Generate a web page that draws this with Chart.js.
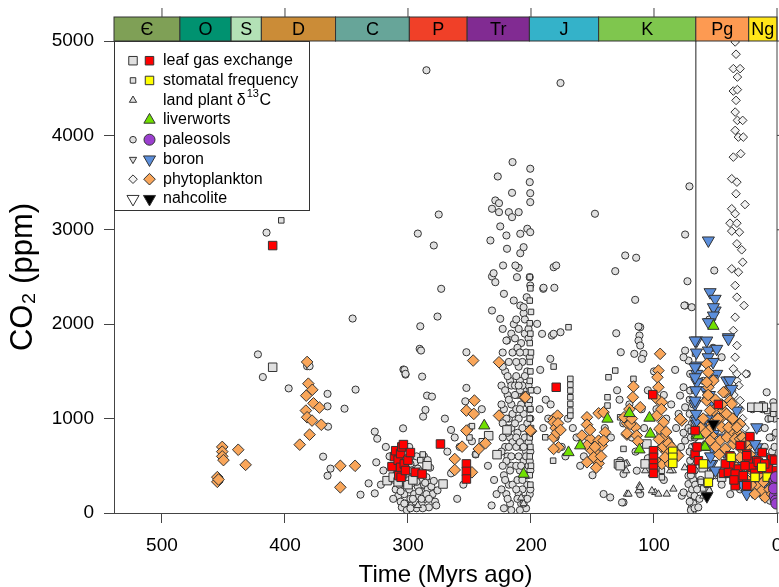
<!DOCTYPE html>
<html><head><meta charset="utf-8">
<script src="https://cdn.jsdelivr.net/npm/chart.js@4/dist/chart.umd.min.js"></script>
<style>html,body{margin:0;padding:0;background:#fff;overflow:hidden}canvas{display:block}</style>
</head><body>
<canvas id="c" width="779" height="587"></canvas>
<script>
const FONT = "'Liberation Sans', Arial, Helvetica, sans-serif";

// ---- axis ticks ----
const xTickValues = [0, 100, 200, 300, 400, 500];
const yTickValues = [0, 1000, 2000, 3000, 4000, 5000];

// ---- geologic periods ----
const periodNames  = ['Є','O','S','D','C','P','Tr','J','K','Pg','Ng'];
const periodStart  = [541, 485.4, 443.8, 419.2, 358.9, 298.9, 251.9, 201.3, 145, 66, 23];
const periodEnd    = [485.4, 443.8, 419.2, 358.9, 298.9, 251.9, 201.3, 145, 66, 23, 0];
const periodColors = ['#7fa056','#009270','#b3e1b6','#cb8c37','#67a599','#f04028','#812b92','#34b2c9','#7fc64e','#fd9a52','#ffe619'];
const boundaryLines = [66];

// ---- data: [age (Myr ago), CO2 (ppm)] ----
const leafGasFilled = [[410,2833],[313,491],[311,597],[310,660],[308,560],[306,629],[306,484],[305,700],[303.7,725],[307.5,396],[305.6,378],[303,520],[302,450],[300,560],[298,640],[294,431],[288.5,413],[273.6,731],[252.5,520],[252.5,441],[252.5,360],
[179.5,1332],[101,1254],[100.4,660],[100.4,590],[100.4,526],[100.4,477],[100.4,420],[69.3,466],
[66.6,873],[66.6,625],[63.9,554],[65,700],[47.7,1150],[22,809],[28.7,714],[24.6,625],[16.5,554],[15.2,466],[23.3,547],[38.2,501],[39.5,420],[31.4,466],[28.7,378],[24.6,307],[34,289],[43.6,420],[20.5,484],[7,466],[15.2,537],[30,714],[38.2,607],[24.6,607],[39.5,431],[34,413],[27.4,395],[24.6,289],[4.3,572],[12,640],[10,520],[18,420],[26,500],[35,350],[42,520],[2,560],[0.5,450]];
const stomatalFilled = [[84.7,653],[84.7,590],[84.7,526],[59.8,520],[55.8,325],[17.9,378],[12.4,484],[37.3,590],[8,380],[3,320]];
const liverwortFilled = [[238,925],[206,413],[169.5,642],[160,714],[137.8,997],[120,1056],[103.7,1007],[103,838],[111.8,671],[65.2,820],[51.7,1980],[63.9,820],[59.8,696],[58.5,700]];
const paleosolFilled = [[2,343],[1.5,290],[1,236],[2,180],[1,130],[0.5,100],[2.5,260],[1,380]];
const boronFilled = [[55.8,2887],[54.4,2339],[50.3,2269],[50.3,2145],[54.4,2021],[39.5,1862],[65.2,1827],[55.8,1721],[49,1739],[65.2,1562],[65.2,1474],[65.2,1385],[49,1474],[39.5,1403],[66.6,1155],[65.2,944],[54.4,908],[53,520],[16.5,908],[16.5,696],[24.6,201],[51.7,2180],[51.7,2092],[55.8,2021],[66.6,1827],[57.1,1827],[39.5,1845],[66.6,1544],[66.6,1438],[53,1421],[40.8,1403],[53,1191],[66.6,1191],[65.2,979],[51.7,838],[53,696],[54.4,520],[18,731],[22,343],[11.1,325],[7,501],[38.2,1403],[36.8,1315],[32.6,1085],[56,1650],[52,1600],[58,1300],[55,1250],[51,1000],[57,1000],[54,600],[50,450],[45,800],[43,650],[20,600],[14,420],[12,200],[9,260],[5,300],[3,220],[28,300],[30,500],[65.5,1700],[66,1300],[65.8,1050],[65,700]];
const phytoFilled = [[455,380],[455,330],[454,355],[451,700],[451,650],[451,600],[450,560],[438,670],[432,510],[381,1370],[377.8,1305],[382.7,1243],[376.8,1162],[372,1117],[383,1085],[382,1014],[378,979],[370.5,935],[380,830],[388,724],[355,500],[343,500],[355,272],[382,1600],
[247,1615],[226,1597],[246,1191],[252.5,1085],[246.5,1050],[226,1032],[252.5,873],[256,703],[242.5,678],[237,738],[262,572],[262,456],[248,431],[205.4,1226],[200,866],
[95,1686],[96.4,1509],[97.2,1438],[96.4,1332],[116.7,1339],[117.2,1226],[111.2,1120],[122,950],[115.3,908],[122,830],[97.7,1209],[93.6,1173],[97.7,1032],[92.3,961],[95.6,890],[91.8,802],[93.6,696],[89.6,643],[93.6,520],[77.4,979],[81.4,625],[145,1056],[154.5,1014],[154.5,936],[139.7,855],[158.6,820],[151.8,785],[145,767],[142.4,714],[154.5,714],[150.4,660],[146.4,625],[149,590],[154.5,537],[145,526],[181.6,997],[178.4,1032],[181.6,961],[181.6,802],[177.6,696],[181.6,679],[200.6,873],[204.6,1226],[124.4,1014],[119.4,944],[114,820],[122,844],[92.3,703],[88.3,738],[91,590],[85.5,696],[80.2,608],[141,1067],[141,767],[180,900],[179,850],[178,950],[176,880],[152,880],[148,700],[143,600],[147,480],[120,1100],[118,1000],[113,760],[94,1100],[96,780],[99,560],[90,860],[87,520],[78.8,997],
[57.1,1580],[55.8,1491],[51.7,1403],[55.8,1332],[42.2,1279],[38.2,1191],[57.1,1191],[51.7,1085],[43.6,1085],[46.3,997],[38.2,1014],[34,944],[30,944],[38.2,855],[46.3,767],[31.4,838],[35.5,731],[27.4,660],[30,590],[23.3,554],[20.5,448],[16.5,378],[15.2,289],[12.4,236],[9.7,165],[53,944],[53,820],[44.9,908],[40.8,802],[34,785],[24.6,696],[57.1,1385],[54.4,1085],[54.4,890],[43.6,1279],[36.8,1155],[39.5,908],[32.6,908],[30,785],[54.4,767],[12.4,484],[8.4,378],[56,1250],[50,1200],[48,1000],[45,1150],[41,1050],[36,1000],[28,800],[26,740],[22,620],[19,500],[14,420],[11,330],[6,250],[4,200],[60,1000],[62,900],[58,850],[50,700],[47,620],[42,680],[37,560],[33,480],[29,420],[25,360],[21,300],[18,200]];
const nahcoliteFilled = [[51.7,944],[57,178]];

const leafGasOpen = [[410,1544],[317,343],[312,380],[308,330],[284.5,501],[271.5,307],[219.5,880],[227.6,618],[234.4,819],[128.9,520],[105.8,731],[107.2,520],[127.5,501],[20.5,1120],[11.1,1120],[1.6,1120],[15.2,1120],[60,480],[55,400],[45,380],[300,300],[296,350]];
const stomatalOpen = [[403,3100],[201,2500],[200.5,2380],[201,2250],[200,2130],[201,2010],[200.5,1900],[201,1800],[200,1700],[201,1600],[200.5,1500],[201,1400],[200,1300],[201,1200],[200.5,1100],[201,1000],[200,900],[201,800],[200.5,700],[201,600],[200,500],[201,400],[200.5,300],
[169.5,1968],[168,1421],[168,1360],[168,1297],[168,1226],[168,1155],[168,1085],[168,1032],[182,554],[188.4,802],[127.5,1014],[124.8,679],[93.6,448],[93.6,378],[137,1438],[137.8,1226],[137.8,1138],[131.5,1509],[116.7,1421],[181.6,1551],[5,1000],[3,1050],[8,1080],[12,1150],[290,560],[288,620],[250,800],[248,920],[240,760],[245,620],[66.6,1690],[67,870],[70,870],[62,330],[60,260],[57,300]];
const landPlantOpen = [[122,201],[112.6,236],[111.8,289],[99,218],[89.6,201],[84.2,254],[84.7,448],[122,526],[122.6,448],[120.7,201],[111.2,272],[101.7,236],[96.4,201],[101.7,413],[107.2,448],[123.4,520],[86.9,448],[75,480],[206,100],[208,160],[292,80],[60,180],[55,240]];
const boronOpen = [[20,200],[18,260],[14,300]];
const phytoOpen = [[34,4990],[33.3,4860],[35.5,4707],[30,4707],[32.2,4618],[35.5,4470],[32.2,4485],[33.3,4371],[34,4247],[32.2,4159],[27.9,4159],[34,4053],[31.4,3982],[27.4,3982],[35.5,3770],[29.5,3806],[36.8,3541],[32.6,3505],[33.3,3382],[26,3268],[36.8,3223],[34,3170],[38.2,3070],[32.6,3070],[36.8,2986],[30.6,2975],[32.6,2852],[28.7,2788],[27.9,2657],[36.8,2587],[31.4,2551],[34,2410],[32.6,2286],[26.8,2198],[34,2074],[35.5,1933],[32.6,1774],[34,1650],[35.5,1527],[32.6,1403],[36.8,1297],[30,1191],[32.6,1474],[25.2,1474],[30,1100],[28,1000],[26,900],[35,1250],[31,1350]];
const paleosolOpen = [[415,2970],[422,1680],[418,1440],[397,1320],[382,1555],[380,1555],[365.4,1262],[365.4,1130],[365,915],[345,2060],[342.6,1307],[351.6,1105],[369,597],[363,470],[365.4,395],[338.6,194],[327,862],[325,787],[325.8,537],[327,208],[332,314],[303.7,1520],[302,1466],[304,897],[318,700],[315,600],[320,450],[322,300],
[310,250],[308,180],[306,120],[305,60],[304,300],[303,200],[302,100],[301,30],[300,400],[299,250],[298,150],[297,80],[296,320],[295,200],[294,120],[293,50],[292,280],[291,180],[290,350],[289,100],[288,220],[287,300],[286,150],[285,380],[284,250],[283,60],[282,320],[280,200],[278,120],[276,240],[303,650],[300,700],[296,600],[294,540],[292,470],[298,520],[290,440],[287,600],[284,560],[282,480],
[312,150],[311,350],[309,420],[307,300],[306,230],[304,400],[303,100],[301,300],[299,350],[298,50],[296,150],[295,420],[293,330],[291,230],[289,150],[288,50],[286,320],[285,200],[283,150],[281,280],[279,340],[277,80],[297,450],[293,600],[299,700],[305,520],[310,400],
[292,2960],[275,3162],[279,2834],[273,2375],[276,2081],[290,1978],[290.5,1739],[289.4,1721],[302.9,1516],[302,1474],[288.5,1445],[284.5,1244],[280.5,1233],[285.8,1092],[287.7,1021],[285,4690],[270,1000],[265,880],[262,800],[258,700],[268,650],[255,300],[260,150],[265,420],
[252.5,1703],[252.5,1325],[253.4,1183],[250,900],[248,760],[245,620],[240,1100],[235,500],[232,80],[230,350],[228,200],
[215,3717],[227,3565],[215.4,3392],[229,3311],[226,3282],[231.7,3223],[226,3187],[218,3187],[215.4,3134],[210,3187],[233,2887],[231.7,2505],[229,2445],[230.4,2540],[222,2322],[231.7,2145],[225,2057],[219.5,1827],[222.7,2622],[219.5,2799],[220,2940],[225,3036],[220,1827],[223,1700],[218,1600],[221,1500],[217,1400],[224,1350],[219,1250],[216,1150],[222,1100],[218,1000],[220,900],[217,800],[221,700],[219,600],[216,500],[222,400],[218,300],[220,200],[217,100],[215,1700],[216,1900],[214,2000],[223,1950],
[223,1550],[219,1450],[216,1350],[221,1300],[218,1200],[224,1150],[215,1050],[220,1000],[223,950],[216,900],[219,850],[223,800],[215,750],[218,700],[224,650],[216,600],[220,550],[223,500],[217,450],[221,350],[215,300],[224,250],[219,150],[222,50],[216,30],
[200.6,3647],[201,3505],[200.6,3388],[200.6,3293],[210,2597],[208.7,2752],[206,2816],[203,3011],[200.6,2975],[208.7,2958],[212.7,2622],[211.4,2498],[214,2251],[208.7,2198],[206,2116],[203.5,2286],[200.6,2410],[201,2498],[206,2180],[212,2050],[210,1950],[205,1900],[202,1850],[208,1800],[211,1750],[204,1700],[201,1650],[207,1600],[210,1550],[203,1500],[205,1450],[209,1400],[202,1350],[206,1300],[211,1250],[204,1200],[208,1150],[201,1100],[206,1050],[210,1000],[203,950],[207,900],[211,850],[205,800],[202,750],[208,700],[204,650],[210,600],[206,550],[202,500],[209,450],[205,400],[211,350],[203,300],[207,250],[210,200],[205,150],[208,100],[204,50],[212,1600],[212,1100],[212,700],
[213,1350],[212,1450],[209,1300],[207,1350],[204,1250],[202,1150],[209,1100],[213,950],[212,800],[209,750],[206,700],[204,600],[201,550],[212,500],[208,500],[203,400],[207,350],[212,250],[201,200],[206,100],[209,30],[203,150],[211,150],[200.5,1000],[201,850],[200.5,650],[200.5,450],[200.5,250],[202,1950],[205,2050],[213,1850],[209,1700],[213,1250],[210,1350],
[195,2004],[191,1898],[183,1880],[176,1915],[190,2375],[181,2386],[181.6,2604],[179.5,2622],[176,4555],[189.8,2386],[192.5,1516],[184.3,1633],[181.6,1898],[195,1300],[193,1100],[190,900],[188,1200],[186,1000],[184,1150],[180,800],[178,900],[175,700],[172,600],[170,1000],[166,900],[163,800],[160,500],[157,600],[148,3170],[150,400],[145,550],
[131.5,2562],[114.5,2704],[123.4,2728],[115.3,2258],[130.7,1904],[127,1703],[111.2,1968],[111.8,1880],[116,1686],[108.6,1686],[112.6,1975],[112.6,1827],[111.2,1774],[109.9,1633],[82.8,1516],[78.8,1244],[74.7,1721],[74.7,2198],[69.3,2180],[71.2,3460],[74.7,2950],[72.8,2455],[75.3,2198],[141,201],[135.6,165],[124.8,112],[114,448],[124.8,413],[127.5,554],[126,112],[111.2,201],[77.4,183],[140,900],[135,800],[130,1300],[128,1200],[125,950],[120,1150],[118,800],[115,650],[110,1100],[108,900],[105,1300],[100,1500],[98,1100],[95,850],[92,1250],[90,1000],[88,760],[86,1150],[82,900],[80,1050],[78,700],[76,850],[105,580],[97,480],[92,350],
[72,1615],[70.6,1474],[70.6,1297],[69.3,1120],[69.3,944],[70.6,554],[72,307],[70.6,201],[69.3,59],[68,130],[72,395],[76,1650],[76,1332],[74.7,1120],[74.7,767],[76,218],[71,1050],[70,800],[69,700],[68,600],[67,450],[68,350],[69,250],[67,180],[68,100],[70,30],[71,650],
[67,1300],[68,1150],[67,950],[66.8,800],[68,1000],[71,1200],[72,900],[70,400],[66.5,300],[67,50],[71,120],
[51,2569],[55,2050],[52,1750],[45,1650],[24.6,1474],[8.4,1279],[3,1173],[7,997],[4.3,802],[12.4,484],[23.3,254],[9.7,183],[5.7,130],[60,1400],[58,1200],[42,1300],[20,1100],[15,900],[10,700],[2,1000],[1,850],[6,600],[9,350],[14,250],[30,250],[38,200],[45,300],[50,400],[56,240],[62,350],[63,150],[64,60],[65,250],
[10,900],[6,800],[4,650],[12,1100],[2,700],[8,500],[3,400],[1,250]];

// ---- styles ----
const OPEN_FILL = '#e0e0e0', EDGE = '#333333';
const toXY = arr => arr.map(p => ({x: p[0], y: p[1]}));
function ds(label, data, style, r, rot, fill, order){
  return {label, data: toXY(data), pointStyle: style, pointRadius: r, pointRotation: rot,
    backgroundColor: fill, borderColor: EDGE, borderWidth: 1, order, showLine: false};
}
const datasets = [
  ds('paleosols', paleosolFilled, 'circle', 5.5, 0, '#9b3fcf', 1),
  ds('nahcolite', nahcoliteFilled, 'triangle', 7, 180, '#000000', 2),
  ds('stomatal frequency', stomatalFilled, 'rect', 6, 0, '#ffff00', 3),
  ds('leaf gas exchange', leafGasFilled, 'rect', 6, 0, '#ff0000', 4),
  ds('liverworts', liverwortFilled, 'triangle', 6.5, 0, '#70e000', 5),
  ds('phytoplankton', phytoFilled, 'rectRot', 5.8, 0, '#f9a65a', 6),
  ds('boron', boronFilled, 'triangle', 7, 180, '#5b8edb', 7),
  ds('leaf gas exchange (open)', leafGasOpen, 'rect', 6, 0, OPEN_FILL, 10),
  ds('stomatal frequency (open)', stomatalOpen, 'rect', 3.9, 0, OPEN_FILL, 11),
  ds('land plant (open)', landPlantOpen, 'triangle', 4.2, 0, OPEN_FILL, 12),
  ds('boron (open)', boronOpen, 'triangle', 4.2, 180, OPEN_FILL, 13),
  ds('phytoplankton (open)', phytoOpen, 'rectRot', 4.3, 0, '#f2f2f2', 14),
  ds('paleosols (open)', paleosolOpen, 'circle', 3.6, 0, OPEN_FILL, 15)
];

function sym(ctx, style, r, fill, x, y){
  ctx.save();
  ctx.fillStyle = fill; ctx.strokeStyle = EDGE; ctx.lineWidth = 1;
  ctx.beginPath();
  if (style === 'circle') ctx.arc(x, y, r, 0, Math.PI*2);
  else if (style === 'rect') { const s = r*Math.SQRT1_2; ctx.rect(x-s, y-s, 2*s, 2*s); }
  else if (style === 'diamond') { ctx.moveTo(x, y-r); ctx.lineTo(x+r, y); ctx.lineTo(x, y+r); ctx.lineTo(x-r, y); ctx.closePath(); }
  else if (style === 'up') { ctx.moveTo(x, y-r); ctx.lineTo(x+r*0.866, y+r*0.5); ctx.lineTo(x-r*0.866, y+r*0.5); ctx.closePath(); }
  else if (style === 'down') { ctx.moveTo(x, y+r); ctx.lineTo(x+r*0.866, y-r*0.5); ctx.lineTo(x-r*0.866, y-r*0.5); ctx.closePath(); }
  ctx.fill(); ctx.stroke();
  ctx.restore();
}

const legendRows = [
  {text: 'leaf gas exchange', open: ['rect', 6, OPEN_FILL], filled: ['rect', 6, '#ff0000']},
  {text: 'stomatal frequency', open: ['rect', 3.9, OPEN_FILL], filled: ['rect', 6, '#ffff00']},
  {text: 'land plant δ', sup: '13', after: 'C', open: ['up', 4.2, OPEN_FILL], filled: null},
  {text: 'liverworts', open: null, filled: ['up', 6.5, '#70e000']},
  {text: 'paleosols', open: ['circle', 3.3, OPEN_FILL], filled: ['circle', 5.5, '#9b3fcf']},
  {text: 'boron', open: ['down', 4.2, OPEN_FILL], filled: ['down', 7, '#5b8edb']},
  {text: 'phytoplankton', open: ['diamond', 4.3, '#f2f2f2'], filled: ['diamond', 5.8, '#f9a65a']},
  {text: 'nahcolite', open: ['down', 7, '#ffffff'], filled: ['down', 7, '#000000']}
];

const decor = {
  id: 'decor',
  beforeDatasetsDraw(chart){
    const {ctx, chartArea: a, scales: {x}} = chart;
    ctx.save();
    ctx.strokeStyle = '#555'; ctx.lineWidth = 1.3;
    boundaryLines.forEach(v => {
      const px = x.getPixelForValue(v);
      ctx.beginPath(); ctx.moveTo(px, a.top); ctx.lineTo(px, a.bottom); ctx.stroke();
    });
    ctx.restore();
  },
  afterDraw(chart){
    const {ctx, chartArea: a, scales: {x, y}} = chart;
    ctx.save();
    const barH = 24, top = a.top - barH;
    periodNames.forEach((n, i) => {
      const x0 = x.getPixelForValue(Math.min(periodStart[i], x.max));
      const x1 = x.getPixelForValue(periodEnd[i]);
      ctx.fillStyle = periodColors[i];
      ctx.fillRect(x0, top, x1 - x0, barH);
      ctx.strokeStyle = '#333'; ctx.lineWidth = 1;
      ctx.strokeRect(x0, top, x1 - x0, barH);
      ctx.fillStyle = '#000'; ctx.font = '18px ' + FONT;
      ctx.textAlign = 'center'; ctx.textBaseline = 'middle';
      ctx.fillText(n, (x0 + x1) / 2, top + barH / 2 + 1);
    });
    // right frame
    ctx.strokeStyle = '#444'; ctx.lineWidth = 1;
    ctx.beginPath(); ctx.moveTo(a.right, top); ctx.lineTo(a.right, a.bottom); ctx.stroke();
    // top ticks
    xTickValues.forEach(v => {
      const px = x.getPixelForValue(v);
      ctx.beginPath(); ctx.moveTo(px, top); ctx.lineTo(px, top - 9); ctx.stroke();
    });
    // right ticks
    yTickValues.forEach(v => {
      const py = y.getPixelForValue(v);
      ctx.beginPath(); ctx.moveTo(a.right, py); ctx.lineTo(a.right + 8, py); ctx.stroke();
    });
    // legend
    const L = a.left, T = a.top, W = 195, H = 169;
    ctx.fillStyle = '#fff'; ctx.fillRect(L, T, W, H);
    ctx.strokeStyle = '#333'; ctx.strokeRect(L + 0.5, T + 0.5, W, H);
    legendRows.forEach((row, i) => {
      const cy = T + 19.7 + i * 19.75;
      if (row.open) sym(ctx, row.open[0], row.open[1], row.open[2], L + 19, cy);
      if (row.filled) sym(ctx, row.filled[0], row.filled[1], row.filled[2], L + 35.5, cy);
      ctx.fillStyle = '#000'; ctx.textAlign = 'left'; ctx.textBaseline = 'middle';
      ctx.font = '16px ' + FONT;
      let tx = L + 49;
      ctx.fillText(row.text, tx, cy);
      if (row.sup) {
        tx += ctx.measureText(row.text).width + 1;
        ctx.font = '11px ' + FONT;
        ctx.fillText(row.sup, tx, cy - 6);
        tx += ctx.measureText(row.sup).width + 0.5;
        ctx.font = '16px ' + FONT;
        ctx.fillText(row.after, tx, cy);
      }
    });
    ctx.restore();
  }
};

Chart.defaults.font.family = FONT;
Chart.defaults.color = '#000';

new Chart(document.getElementById('c'), {
  type: 'scatter',
  data: {datasets},
  options: {
    responsive: false,
    devicePixelRatio: 1,
    animation: false,
    events: [],
    layout: {autoPadding: false, padding: {top: 41, right: 2, left: 0, bottom: 0}},
    plugins: {legend: {display: false}, tooltip: {enabled: false}},
    scales: {
      x: {
        type: 'linear', reverse: true, min: 0, max: 539,
        afterFit: s => { s.height = 74; s.paddingLeft = 0; s.paddingRight = 0; },
        afterBuildTicks: s => { s.ticks = xTickValues.map(v => ({value: v})); },
        ticks: {font: {size: 19}, color: '#000', padding: 11, maxRotation: 0, autoSkip: false, callback: v => String(v)},
        grid: {drawOnChartArea: false, drawTicks: true, tickLength: 10, color: '#444'},
        border: {display: true, color: '#444', width: 1},
        title: {display: true, text: 'Time (Myrs ago)', font: {size: 24, lineHeight: 1}, color: '#000', padding: {top: 0, bottom: 0}}
      },
      y: {
        type: 'linear', min: 0, max: 5000,
        afterFit: s => { s.width = 114; s.paddingTop = 0; s.paddingBottom = 0; },
        afterBuildTicks: s => { s.ticks = yTickValues.map(v => ({value: v})); },
        ticks: {font: {size: 19}, color: '#000', padding: 10, callback: v => String(v)},
        grid: {drawOnChartArea: false, drawTicks: true, tickLength: 10, color: '#444'},
        border: {display: true, color: '#444', width: 1},
        title: {display: true, text: 'CO₂ (ppm)', font: {size: 31, lineHeight: 1}, color: '#000', padding: {top: 8, bottom: 0}}
      }
    }
  },
  plugins: [decor]
});
</script>
</body></html>
